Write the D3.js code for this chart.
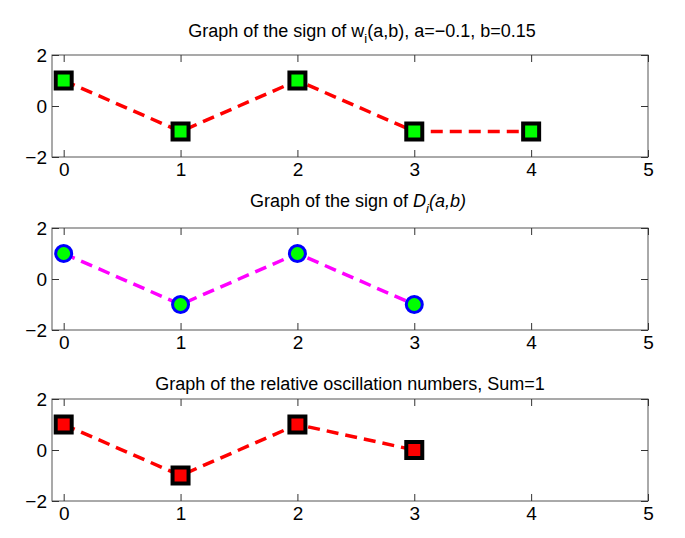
<!DOCTYPE html>
<html>
<head>
<meta charset="utf-8">
<script src="https://cdn.jsdelivr.net/npm/d3@7"></script>
<style>
  body { margin: 0; background: #fff; }
  text { font-family: "Liberation Sans", Arial, sans-serif; fill: #000; }
</style>
</head>
<body>
<svg id="chart" width="685" height="538"></svg>
<script>
// data
var xTicks = [0, 1, 2, 3, 4, 5];
var yTicks = [-2, 0, 2];
var wIndex = [0, 1, 2, 3, 4];
var wSign = [1, -1, 1, -1, -1];
var dIndex = [0, 1, 2, 3];
var dSign = [1, -1, 1, -1];
var oscIndex = [0, 1, 2, 3];
var oscValues = [1, -1, 1, 0];

var svg = d3.select("#chart");
var left = 52, right = 648, h = 102;
var tops = [55, 228, 399];

var x = d3.scaleLinear().domain([-0.1, 5]).range([left, right]);

var panels = [
  { top: tops[0], xs: wIndex, ys: wSign, line: "#ff0000", marker: "square", fill: "#00ff00", stroke: "#000" },
  { top: tops[1], xs: dIndex, ys: dSign, line: "#ff00ff", marker: "circle", fill: "#00ff00", stroke: "#0000ff" },
  { top: tops[2], xs: oscIndex, ys: oscValues, line: "#ff0000", marker: "square", fill: "#ff0000", stroke: "#000" }
];

panels.forEach(function(p, k) {
  var y = d3.scaleLinear().domain([-2, 2]).range([p.top + h, p.top]);
  var g = svg.append("g");

  g.append("rect")
   .attr("x", left).attr("y", p.top)
   .attr("width", right - left).attr("height", h)
   .attr("fill", "#fff").attr("stroke", "#555").attr("stroke-width", 1);

  // ticks on all four sides, labels only bottom and left
  var xb = g.append("g").attr("transform", "translate(0," + (p.top + h) + ")")
            .call(d3.axisBottom(x).tickValues(xTicks).tickSize(-7).tickPadding(6).tickFormat(d3.format("d")));
  var xt = g.append("g").attr("transform", "translate(0," + p.top + ")")
            .call(d3.axisTop(x).tickValues(xTicks).tickSize(-7).tickFormat(""));
  var yl = g.append("g").attr("transform", "translate(" + left + ",0)")
            .call(d3.axisLeft(y).tickValues(yTicks).tickSize(-7).tickPadding(5).tickFormat(function(d) { return d < 0 ? "\u2212" + (-d) : d; }));
  var yr = g.append("g").attr("transform", "translate(" + right + ",0)")
            .call(d3.axisRight(y).tickValues(yTicks).tickSize(-7).tickFormat(""));
  [xb, xt, yl, yr].forEach(function(a) {
    a.select(".domain").remove();
    a.selectAll("line").attr("stroke", "#333");
    a.selectAll("text").style("font-size", "19px").attr("fill", "#000");
  });

  var line = d3.line().x(function(d) { return x(d[0]); }).y(function(d) { return y(d[1]); });
  var pts = d3.zip(p.xs, p.ys);
  g.append("path").datum(pts)
   .attr("d", line)
   .attr("fill", "none")
   .attr("stroke", p.line)
   .attr("stroke-width", 3.5)
   .attr("stroke-dasharray", "12,7");

  if (p.marker == "square") {
    g.selectAll(".mk").data(pts).enter().append("rect")
     .attr("x", function(d) { return x(d[0]) - 8; })
     .attr("y", function(d) { return y(d[1]) - 8; })
     .attr("width", 16).attr("height", 16)
     .attr("fill", p.fill).attr("stroke", p.stroke).attr("stroke-width", 4);
  } else {
    g.selectAll(".mk").data(pts).enter().append("circle")
     .attr("cx", function(d) { return x(d[0]); })
     .attr("cy", function(d) { return y(d[1]); })
     .attr("r", 8)
     .attr("fill", p.fill).attr("stroke", p.stroke).attr("stroke-width", 3);
  }
});

// titles
var cx = (left + right) / 2;
var t1 = svg.append("text").attr("x", cx + 12).attr("y", tops[0] - 18).attr("text-anchor", "middle").style("font-size", "18px");
t1.append("tspan").text("Graph of the sign of w");
t1.append("tspan").attr("dy", 6).style("font-size", "13px").text("i");
t1.append("tspan").attr("dy", -6).text("(a,b), a=\u22120.1, b=0.15");

var t2 = svg.append("text").attr("x", cx + 8).attr("y", tops[1] - 21).attr("text-anchor", "middle").style("font-size", "18px");
t2.append("tspan").text("Graph of the sign of ");
t2.append("tspan").style("font-style", "italic").text("D");
t2.append("tspan").attr("dy", 6).style("font-size", "13px").style("font-style", "italic").text("i");
t2.append("tspan").attr("dy", -6).style("font-style", "italic").text("(a,b)");

svg.append("text").attr("x", cx).attr("y", tops[2] - 9).attr("text-anchor", "middle").style("font-size", "18px")
   .text("Graph of the relative oscillation numbers, Sum=1");
</script>
</body>
</html>
